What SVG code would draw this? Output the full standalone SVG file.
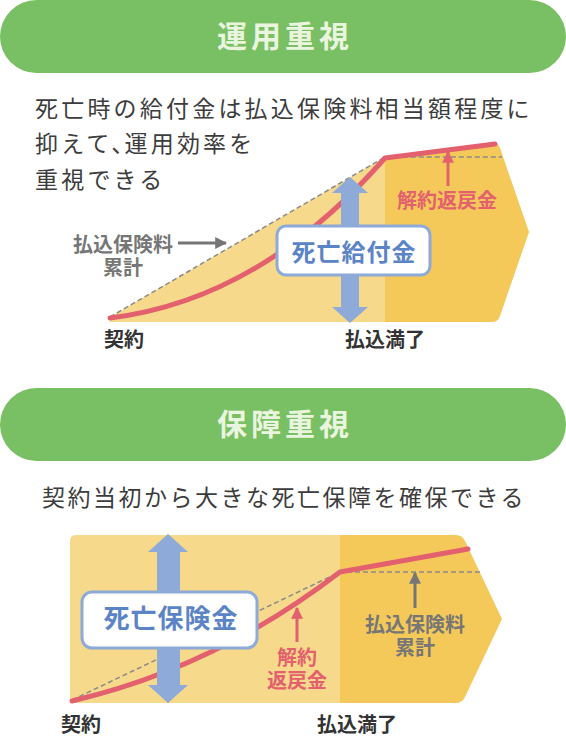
<svg xmlns="http://www.w3.org/2000/svg" width="566" height="744" viewBox="0 0 566 744">
<defs>
<style>
text{font-family:"Noto Sans CJK JP","Noto Sans CJK SC",sans-serif}
.banner{fill:#79bf63}
.btxt{fill:#eaf5df;font-size:30px;font-weight:700;letter-spacing:4px;text-anchor:middle}
.body{fill:#3c3c3c;font-size:23px;font-weight:400}
.light{fill:#f7d98b}
.dark{fill:#f4c95a}
.red{fill:none;stroke:#e3616e;stroke-width:5;stroke-linecap:round;stroke-linejoin:round}
.dash{fill:none;stroke:#8a8a8a;stroke-width:1.5;stroke-dasharray:5 3}
.blue{fill:#8eaad8}
.box{fill:#fff;stroke:#8eaad8;stroke-width:3}
.boxt{fill:#5b84c6;font-weight:700;text-anchor:middle}
.lbl{font-size:20px;font-weight:700;text-anchor:middle}
.k{fill:#333}
.g{fill:#767676}
.r{fill:#e3616e}
.garr{stroke:#767676;stroke-width:3;fill:none}
.rarr{stroke:#e3616e;stroke-width:3;fill:none}
</style>
<marker id="ah-g" viewBox="0 0 10 10" refX="9" refY="5" markerWidth="4" markerHeight="4" markerUnits="strokeWidth" orient="auto"><path d="M0,0 L10,5 L0,10 Z" fill="#767676"/></marker>
<marker id="ah-r" viewBox="0 0 10 10" refX="9" refY="5" markerWidth="4" markerHeight="4" markerUnits="strokeWidth" orient="auto"><path d="M0,0 L10,5 L0,10 Z" fill="#e3616e"/></marker>
</defs>

<!-- Section 1 -->
<g id="banner1">
<rect class="banner" x="0" y="0" width="566" height="73" rx="36.5"/>
<text class="btxt" x="285" y="47">運用重視</text>
</g>
<g id="desc1">
<text class="body" x="35" y="116.5" style="letter-spacing:3.2px">死亡時の給付金は払込保険料相当額程度に</text>
<text class="body" x="35" y="151.5" style="letter-spacing:3.2px">抑えて、<tspan dx="-13">運用効率を</tspan></text>
<text class="body" x="35" y="188" style="letter-spacing:3.2px">重視できる</text>
</g>
<g id="chart1-area">
<path class="light" d="M110,322 L110,317 L385,157 L385,322 Z"/>
<path class="dark" d="M385,157 L495,143 Q498,143 500,148 L529,232 L500,316 Q498,322 492,322 L385,322 Z"/>
</g>

<!-- Section 2 -->
<g id="banner2">
<rect class="banner" x="0" y="388" width="566" height="73" rx="36.5"/>
<text class="btxt" x="285" y="435">保障重視</text>
</g>
<g id="desc2">
<text class="body" x="42" y="505.5" style="letter-spacing:2.5px">契約当初から大きな死亡保障を確保できる</text>
</g>
<g id="chart2-area">
<path class="light" d="M76,535 L340,535 L340,703 L76,703 Q70,703 70,697 L70,541 Q70,535 76,535 Z"/>
<path class="dark" d="M340,535 L456,535 Q462,535 465,541 L502,619 L465,697 Q462,703 456,703 L340,703 Z"/>
</g>

<g id="connectors">
<path class="dash" d="M110,317 L385,157 L502,157"/>
<path class="red" d="M110,318 Q260,300 385,158 L495,144"/>
<path class="dash" d="M72,700 L340,572 L480,572"/>
<path class="red" d="M72,701 Q215,668 340,572 L468,549"/>
<line class="garr" x1="178" y1="243" x2="226" y2="243" marker-end="url(#ah-g)"/>
<line class="rarr" x1="448" y1="186" x2="448" y2="152" marker-end="url(#ah-r)"/>
<line class="rarr" x1="297" y1="642" x2="297" y2="608" marker-end="url(#ah-r)"/>
<line class="garr" x1="415" y1="608" x2="415" y2="573" marker-end="url(#ah-g)"/>
</g>

<g id="death-benefit">
<path class="blue" d="M350,177 L368,193 L359,193 L359,307 L368,307 L350,323 L332,307 L341,307 L341,193 L332,193 Z"/>
<rect class="box" x="277" y="226" width="153" height="49" rx="9"/>
<text class="boxt" x="354" y="261" style="font-size:24px;letter-spacing:1px">死亡給付金</text>
</g>
<g id="label-cum1"><text class="lbl g" x="123" y="252">払込保険料<tspan x="123" y="275">累計</tspan></text></g>
<g id="label-surr1"><text class="lbl r" x="447" y="208">解約返戻金</text></g>
<g id="label-start1"><text class="lbl k" x="124" y="347">契約</text></g>
<g id="label-end1"><text class="lbl k" x="385" y="347">払込満了</text></g>

<g id="death-insurance">
<path class="blue" d="M168,534 L188,552 L180,552 L180,685 L188,685 L168,703 L148,685 L157,685 L157,552 L148,552 Z"/>
<rect class="box" x="82" y="592" width="175" height="56" rx="10"/>
<text class="boxt" x="171" y="628" style="font-size:26px;letter-spacing:1px">死亡保険金</text>
</g>
<g id="label-surr2"><text class="lbl r" x="297" y="665">解約<tspan x="297" y="688">返戻金</tspan></text></g>
<g id="label-cum2"><text class="lbl g" x="415" y="632">払込保険料<tspan x="415" y="655">累計</tspan></text></g>
<g id="label-start2"><text class="lbl k" x="81" y="732">契約</text></g>
<g id="label-end2"><text class="lbl k" x="357" y="732">払込満了</text></g>
</svg>
